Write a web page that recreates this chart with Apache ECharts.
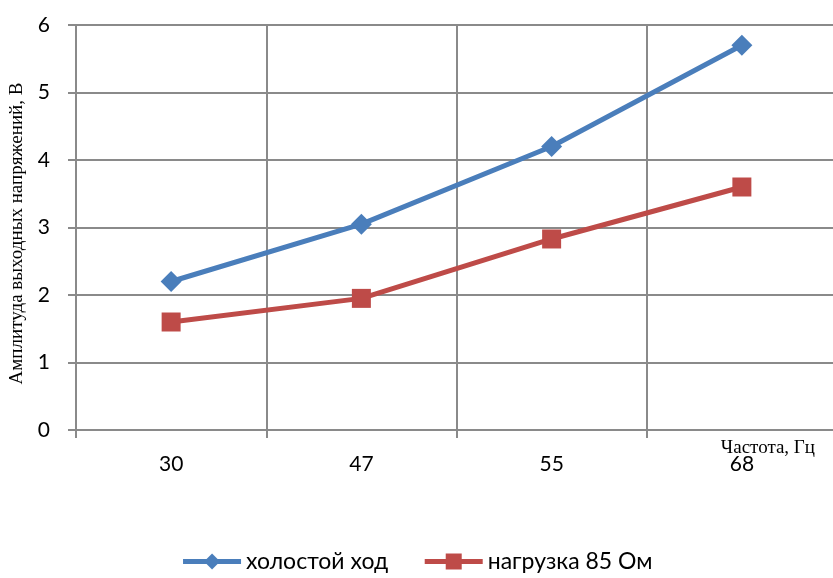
<!DOCTYPE html>
<html>
<head>
<meta charset="utf-8">
<script src="https://cdn.jsdelivr.net/npm/echarts@6/dist/echarts.min.js"></script>
<style>
  html, body { margin: 0; padding: 0; background: #ffffff; }
  #chart { width: 833px; height: 578px; }
</style>
</head>
<body>
<div id="chart"></div>
<script>
// Frequency categories (Hz)
const frequencies = ['30', '47', '55', '68'];
// Output voltage amplitude, V
const idleRun = [2.2, 3.05, 4.2, 5.7];
const load85 = [1.6, 1.95, 2.83, 3.6];
const seriesNames = ['холостой ход', 'нагрузка 85 Ом'];
const yTicks = { min: 0, max: 6, interval: 1 };
const xAxisTitle = 'Частота, Гц';
const yAxisTitle = 'Амплитуда выходных напряжений, В';

const gridColor = '#8a8a8a';
const labelFont = 'Lato, "Open Sans", sans-serif';
const serifFont = '"Liberation Serif", "DejaVu Serif", serif';

const chart = echarts.init(document.getElementById('chart'), null, { renderer: 'canvas' });

chart.setOption({
  animation: false,
  backgroundColor: '#ffffff',
  grid: { left: 76, right: -4, top: 25, bottom: 148, containLabel: false, outerBoundsMode: 'none' },
  legend: {
    bottom: 0,
    left: 'center',
    itemWidth: 58,
    itemHeight: 20,
    itemGap: 34,
    lineStyle: { width: 5 },
    textStyle: { fontFamily: labelFont, fontSize: 23, color: '#000' },
    data: seriesNames
  },
  // x-axis title sits just under the axis line, near the right edge
  graphic: [
    {
      type: 'text',
      right: 18,
      top: 439,
      style: { text: xAxisTitle, font: '19px ' + serifFont, fill: '#000' }
    }
  ],
  xAxis: {
    type: 'category',
    data: frequencies,
    boundaryGap: true,
    axisLine: { lineStyle: { color: gridColor, width: 2 } },
    axisTick: { show: true, length: 8, alignWithLabel: false, lineStyle: { color: gridColor, width: 2 } },
    axisLabel: { fontFamily: labelFont, fontSize: 21, color: '#000', margin: 24 },
    splitLine: { show: true, lineStyle: { color: gridColor, width: 2 } }
  },
  yAxis: {
    type: 'value',
    min: yTicks.min,
    max: yTicks.max,
    interval: yTicks.interval,
    name: yAxisTitle,
    nameLocation: 'middle',
    nameGap: 47,
    nameRotate: 90,
    nameTextStyle: { fontFamily: serifFont, fontSize: 19, color: '#000', padding: [0, 12, 0, 0] },
    axisLine: { show: true, lineStyle: { color: gridColor, width: 2 } },
    axisTick: { show: true, length: 8, lineStyle: { color: gridColor, width: 2 } },
    axisLabel: { fontFamily: labelFont, fontSize: 21, color: '#000', margin: 26 },
    splitLine: { show: true, lineStyle: { color: gridColor, width: 2 } }
  },
  series: [
    {
      name: seriesNames[0],
      type: 'line',
      data: idleRun,
      symbol: 'diamond',
      symbolSize: 21,
      color: '#4a7ebb',
      lineStyle: { width: 5, color: '#4a7ebb' },
      itemStyle: { color: '#4a7ebb' },
      z: 3
    },
    {
      name: seriesNames[1],
      type: 'line',
      data: load85,
      symbol: 'rect',
      symbolSize: 19,
      color: '#be4b48',
      lineStyle: { width: 5, color: '#be4b48' },
      itemStyle: { color: '#be4b48' },
      z: 2
    }
  ]
});
</script>
</body>
</html>
